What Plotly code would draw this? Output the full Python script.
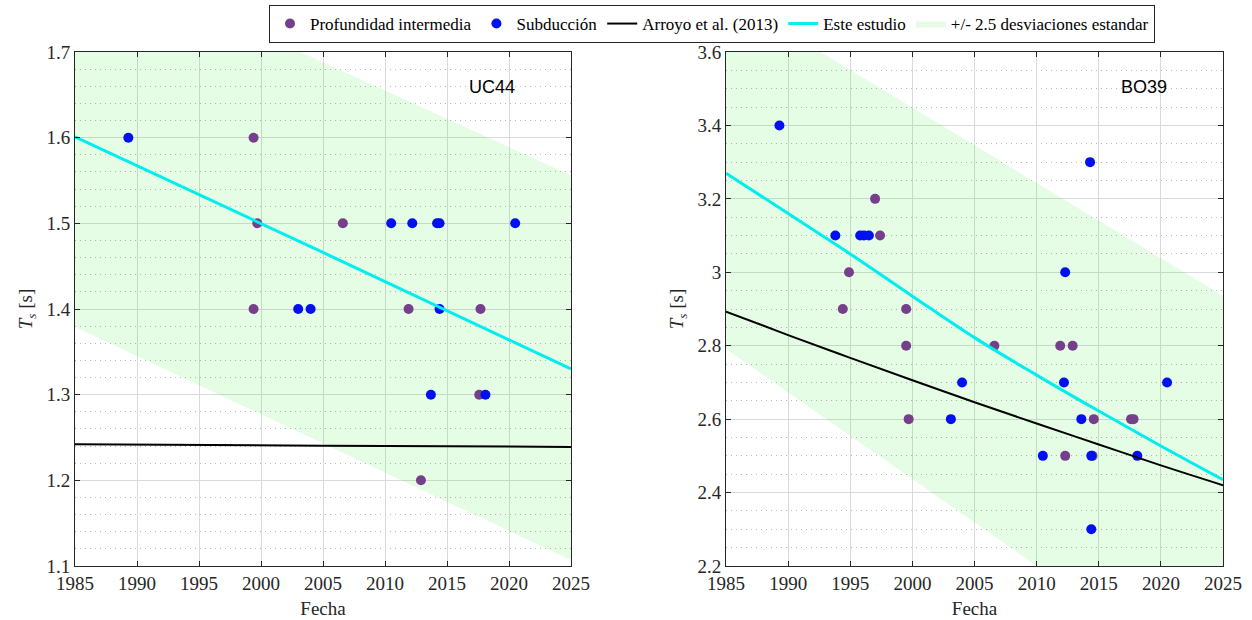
import plotly.graph_objects as go

# ---------------- data ----------------
# UC44 (left)
uc_int_x = [1999.4, 1999.7, 1999.4, 2006.6, 2011.9, 2017.7, 2017.6, 2012.9]
uc_int_y = [1.6, 1.5, 1.4, 1.5, 1.4, 1.4, 1.3, 1.2]
uc_sub_x = [1989.3, 2003.0, 2004.0, 2010.5, 2012.2, 2014.2, 2014.4, 2020.5, 2014.4, 2013.7, 2018.1]
uc_sub_y = [1.6, 1.4, 1.4, 1.5, 1.5, 1.5, 1.5, 1.5, 1.4, 1.3, 1.3]
uc_line_x = [1985, 2005, 2025]
uc_arroyo_y = [1.242, 1.2405, 1.239]
uc_est_y = [1.601, 1.466, 1.330]
uc_band_x = [1985, 2005, 2025]
uc_band_up = [1.82, 1.688, 1.556]
uc_band_lo = [1.379, 1.243, 1.107]

# BO39 (right)
bo_int_x = [1997.0, 1997.4, 1994.9, 1994.4, 1999.5, 1999.5, 2006.6, 2011.9, 2012.9,
            1999.7, 2014.6, 2017.6, 2017.8, 2012.3, 2014.5]
bo_int_y = [3.2, 3.1, 3.0, 2.9, 2.9, 2.8, 2.8, 2.8, 2.8,
            2.6, 2.6, 2.6, 2.6, 2.5, 2.5]
bo_sub_x = [1989.3, 1993.8, 1995.8, 1996.1, 1996.5, 2012.3, 2014.3, 2004.0, 2012.2,
            2020.5, 2003.1, 2013.6, 2010.5, 2014.4, 2018.1, 2014.4]
bo_sub_y = [3.4, 3.1, 3.1, 3.1, 3.1, 3.0, 3.3, 2.7, 2.7,
            2.7, 2.6, 2.6, 2.5, 2.5, 2.5, 2.3]
bo_line_x = [1985, 1990, 1995, 2000, 2005, 2010, 2015, 2020, 2025]
bo_arroyo_y = [2.893, 2.829, 2.767, 2.706, 2.646, 2.588, 2.531, 2.474, 2.42]
bo_est_y = [3.27, 3.16, 3.05, 2.935, 2.822, 2.72, 2.622, 2.527, 2.435]
bo_band_x = [1985, 2005, 2025]
bo_band_up = [3.756, 3.346, 2.936]
bo_band_lo = [2.791, 2.318, 1.846]

x_ticks = [1985, 1990, 1995, 2000, 2005, 2010, 2015, 2020, 2025]
x_ticktext = ["1985", "1990", "1995", "2000", "2005", "2010", "2015", "2020", "2025"]
uc_yticks = [1.1, 1.2, 1.3, 1.4, 1.5, 1.6, 1.7]
uc_yticktext = ["1.1", "1.2", "1.3", "1.4", "1.5", "1.6", "1.7"]
bo_yticks = [2.2, 2.4, 2.6, 2.8, 3.0, 3.2, 3.4, 3.6]
bo_yticktext = ["2.2", "2.4", "2.6", "2.8", "3", "3.2", "3.4", "3.6"]

names = ["Profundidad intermedia", "Subducción", "Arroyo et al. (2013)", "Este estudio",
         "+/- 2.5 desviaciones estandar"]

# ---------------- styles ----------------
PURPLE = "#763F8B"
BLUE = "#0010F0"
CYAN = "#00EEEE"
BAND = "rgba(0,225,0,0.102)"
SERIF = "Liberation Serif, Times New Roman, serif"
SANS = "Liberation Sans, Arial, sans-serif"
AX = "#262626"

fig = go.Figure()


def add_panel(xa, ya, bx, bup, blo, lx, ar, es, ix, iy, sx, sy, show):
    fig.add_trace(go.Scatter(
        x=bx + bx[::-1], y=bup + blo[::-1], fill="toself", fillcolor=BAND,
        line=dict(width=0), mode="lines", name=names[4], showlegend=show,
        legendrank=5, xaxis=xa, yaxis=ya, hoverinfo="skip"))
    fig.add_trace(go.Scatter(
        x=ix, y=iy, mode="markers", marker=dict(color=PURPLE, size=10),
        name=names[0], showlegend=show, legendrank=1, xaxis=xa, yaxis=ya))
    fig.add_trace(go.Scatter(
        x=sx, y=sy, mode="markers", marker=dict(color=BLUE, size=10),
        name=names[1], showlegend=show, legendrank=2, xaxis=xa, yaxis=ya))
    fig.add_trace(go.Scatter(
        x=lx, y=ar, mode="lines", line=dict(color="black", width=2, shape="spline"),
        name=names[2], showlegend=show, legendrank=3, xaxis=xa, yaxis=ya))
    fig.add_trace(go.Scatter(
        x=lx, y=es, mode="lines", line=dict(color=CYAN, width=3, shape="spline"),
        name=names[3], showlegend=show, legendrank=4, xaxis=xa, yaxis=ya))


add_panel("x", "y", uc_band_x, uc_band_up, uc_band_lo, uc_line_x, uc_arroyo_y, uc_est_y,
          uc_int_x, uc_int_y, uc_sub_x, uc_sub_y, True)
add_panel("x2", "y2", bo_band_x, bo_band_up, bo_band_lo, bo_line_x, bo_arroyo_y, bo_est_y,
          bo_int_x, bo_int_y, bo_sub_x, bo_sub_y, False)

W, H = 1252, 620
ydom = [1 - 566 / H, 1 - 52 / H]
TF = 19

common_x = dict(
    range=[1985, 2025], tickvals=x_ticks, ticktext=x_ticktext, automargin=False,
    showline=True, linecolor=AX, linewidth=1, mirror="ticks",
    ticks="inside", ticklen=5, tickcolor=AX,
    showgrid=True, gridcolor="#DADADA", gridwidth=1, zeroline=False,
    tickfont=dict(family=SERIF, size=TF, color=AX),
    title=dict(text="Fecha", font=dict(family=SERIF, size=TF, color=AX), standoff=8),
)
common_y = dict(
    showline=True, linecolor=AX, linewidth=1, mirror="ticks", automargin=False,
    ticks="inside", ticklen=5, tickcolor=AX,
    showgrid=True, gridcolor="#DADADA", gridwidth=1, zeroline=False,
    tickfont=dict(family=SERIF, size=TF, color=AX),
    title=dict(text="<i>T</i><sub><i>s</i></sub> [s]",
               font=dict(family=SERIF, size=TF, color=AX), standoff=8),
)
minor_common = dict(showgrid=True, griddash="1px,4px", gridcolor="#B8B8B8", gridwidth=1,
                    ticks="")

fig.update_layout(
    width=W, height=H, margin=dict(l=0, r=0, t=0, b=0, autoexpand=False),
    paper_bgcolor="white", plot_bgcolor="white",
    xaxis=dict(domain=[75 / W, 571 / W], anchor="y", **common_x),
    yaxis=dict(domain=ydom, anchor="x", range=[1.1, 1.7], tickvals=uc_yticks,
               ticktext=uc_yticktext, minor=dict(dtick=0.02, **minor_common),
               **common_y),
    xaxis2=dict(domain=[726 / W, 1223 / W], anchor="y2", **common_x),
    yaxis2=dict(domain=ydom, anchor="x2", range=[2.2, 3.6], tickvals=bo_yticks,
                ticktext=bo_yticktext, minor=dict(dtick=0.05, **minor_common),
                **common_y),
    legend=dict(orientation="h", x=712 / W, xanchor="center", y=1 - 5 / H, yanchor="top",
                bordercolor=AX, borderwidth=1, bgcolor="white",
                font=dict(family=SERIF, size=17, color="black"),
                itemwidth=30, tracegroupgap=0, traceorder="normal"),
    showlegend=True,
    annotations=[
        dict(text="UC44", xref="x domain", yref="y domain", x=0.891, y=0.955,
             showarrow=False, font=dict(family=SANS, size=18, color="black")),
        dict(text="BO39", xref="x2 domain", yref="y2 domain", x=0.891, y=0.955,
             showarrow=False, font=dict(family=SANS, size=18, color="black")),
    ],
)

fig.write_html("out.html")
